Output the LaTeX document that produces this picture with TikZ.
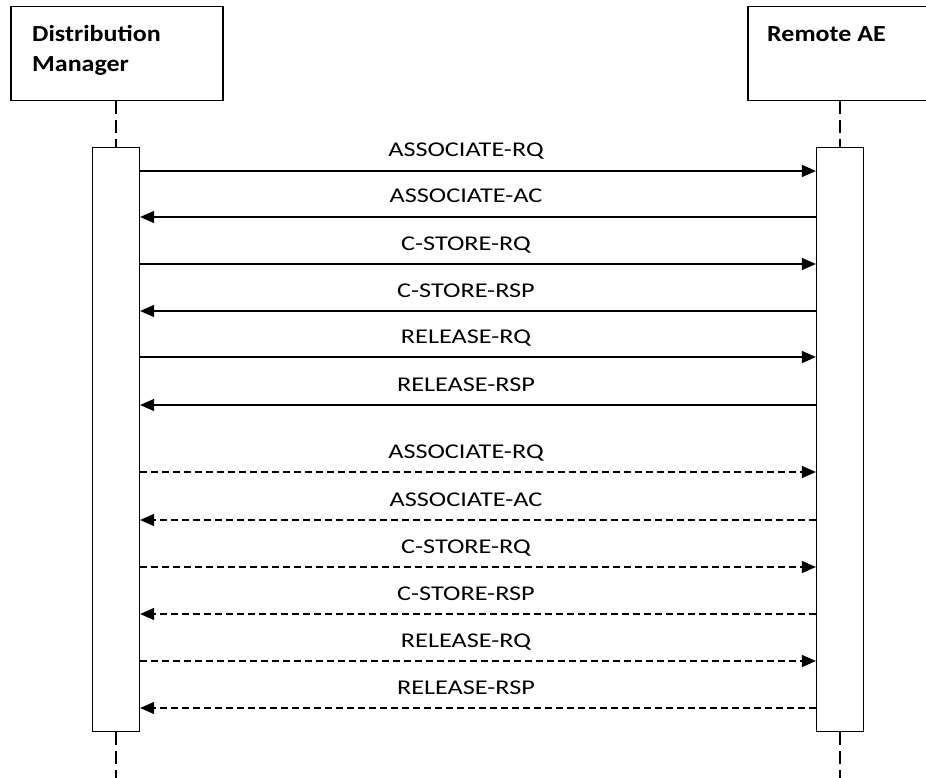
\documentclass[tikz,border=0pt]{standalone}
\usepackage{fontspec}
\setmainfont{Carlito}
\usetikzlibrary{arrows.meta,calc}
\newcommand{\wideA}[1]{\scalebox{1.13}[1]{#1}}
\newcommand{\wideB}[1]{\scalebox{1.25}[1]{#1}}
\begin{document}
\begin{tikzpicture}[x=1pt,y=-1pt,
  actor/.style={draw,line width=1.5pt,minimum width=212pt,minimum height=94pt,anchor=north west,inner sep=0pt},
  actorlabel/.style={font=\fontsize{23}{29.5}\selectfont\bfseries,anchor=base west,inner sep=0pt},
  activation/.style={draw,line width=1.2pt,fill=white,minimum width=47pt,minimum height=584pt,anchor=north,inner sep=0pt},
  lifeline/.style={line width=1.2pt,dash pattern=on 13pt off 6pt},
  msg/.style={line width=1.2pt,-{Triangle[length=14pt,width=12pt]}},
  reply/.style={msg,dash pattern=on 7pt off 4pt},
  msglabel/.style={font=\fontsize{21}{24}\selectfont,anchor=base,inner sep=0pt},
]
\useasboundingbox (0,0) rectangle (926,778);
\clip (0,0) rectangle (926,778);
% actors
\node[actor] (dm) at (10,6) {};
\node[actor] (ae) at (747,6) {};
\node[actorlabel] (dmtext1) at (32,42) {\wideA{Distribution}};
\node[actorlabel] (dmtext2) at (32,71.5) {\wideA{Manager}};
\node[actorlabel] (aetext) at (767,42) {\wideA{Remote AE}};
% lifelines
\coordinate (dmend) at (116,778);
\coordinate (aeend) at (840,778);
\node[activation] (dmact) at (116,147) {};
\node[activation] (aeact) at (840,147) {};
\draw[lifeline] (dm.south -| dmact.north) -- (dmact.north);
\draw[lifeline] (ae.south -| aeact.north) -- (aeact.north);
\draw[lifeline] (dmact.south) -- (dmend);
\draw[lifeline] (aeact.south) -- (aeend);
% messages
\foreach \y/\a/\b/\sty/\txt in {
  171/dmact.east/aeact.west/msg/ASSOCIATE-RQ,
  217/aeact.west/dmact.east/msg/ASSOCIATE-AC,
  264/dmact.east/aeact.west/msg/C-STORE-RQ,
  311/aeact.west/dmact.east/msg/C-STORE-RSP,
  357/dmact.east/aeact.west/msg/RELEASE-RQ,
  405/aeact.west/dmact.east/msg/RELEASE-RSP,
  472/dmact.east/aeact.west/reply/ASSOCIATE-RQ,
  520/aeact.west/dmact.east/reply/ASSOCIATE-AC,
  567/dmact.east/aeact.west/reply/C-STORE-RQ,
  614/aeact.west/dmact.east/reply/C-STORE-RSP,
  661/dmact.east/aeact.west/reply/RELEASE-RQ,
  708/aeact.west/dmact.east/reply/RELEASE-RSP}{
  \draw[\sty] (\a |- 0,\y) -- (\b |- 0,\y);
  \node[msglabel] at (466,\y-14) {\wideB{\txt}};
}
\end{tikzpicture}
\end{document}
